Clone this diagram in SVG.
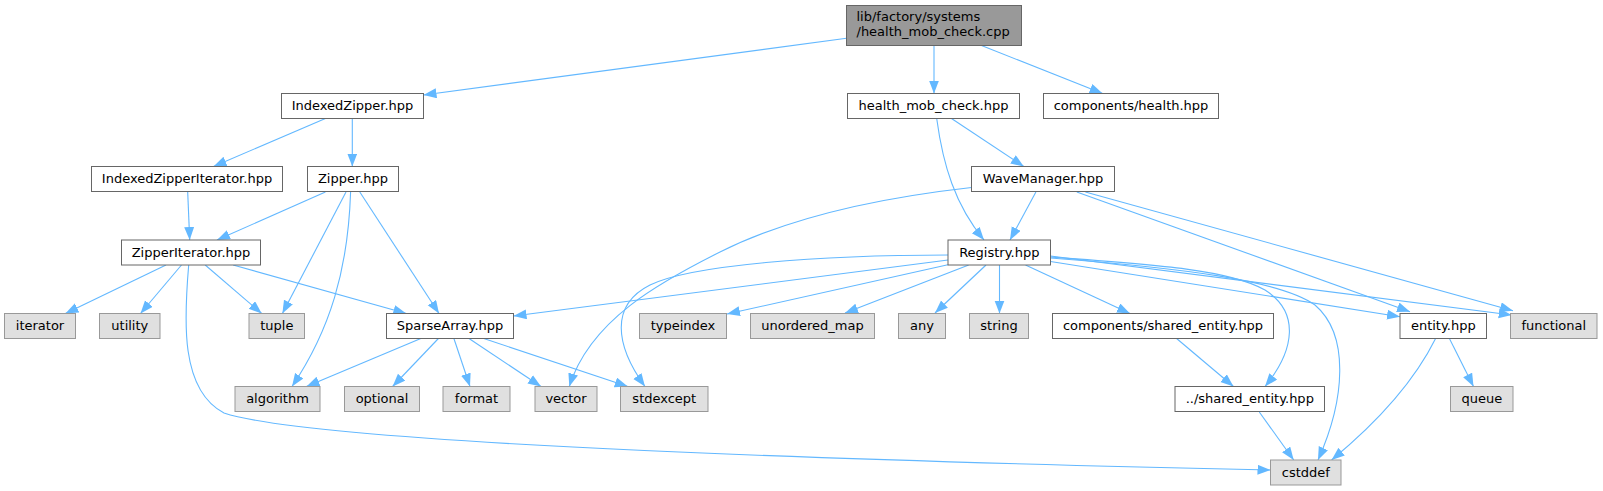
<svg xmlns="http://www.w3.org/2000/svg" width="1603" height="491" viewBox="0 0 1603 491">
<style>
.n rect{fill:#ffffff;stroke:#666666;stroke-width:1}
.g rect{fill:#e0e0e0;stroke:#999999;stroke-width:1}
.r rect{fill:#999999;stroke:#666666;stroke-width:1}
text{font-family:"DejaVu Sans","Liberation Sans",sans-serif;font-size:13px;fill:#000000;text-anchor:middle}
#edges path{fill:none;stroke:#63b8ff;stroke-width:1.1;marker-end:url(#a)}
</style>
<defs>
<marker id="a" markerUnits="userSpaceOnUse" markerWidth="14" markerHeight="11" refX="13" refY="5" orient="auto">
<path d="M0,0 L13,5 L0,10 z" fill="#63b8ff" stroke="none"/>
</marker>
</defs>
<rect width="1603" height="491" fill="#ffffff"/>
<g id="edges">
<path d="M846.5,38.3 L423.5,95"/>
<path d="M934,45.5 L934,93.5"/>
<path d="M981.5,45.5 L1102.6,93.5"/>
<path d="M325.4,118.5 L213.5,166.5"/>
<path d="M352.3,118.5 L352.3,166.5"/>
<path d="M187.7,192 L189.7,240"/>
<path d="M325.4,192 L217,240"/>
<path d="M346,192 L282.4,313.5"/>
<path d="M350.6,192 C348,270 330,330 292,386.5"/>
<path d="M359.8,192 L439,313.5"/>
<path d="M166,265 L65.4,313.5"/>
<path d="M181.5,265 L140.5,313.5"/>
<path d="M205.2,265 L261.7,313.5"/>
<path d="M233.1,265 L406.3,313.5"/>
<path d="M188.7,265 C184,320 180,390 224,413 C320,445 900,462 1270.5,470"/>
<path d="M420.8,338.5 L306.5,386.5"/>
<path d="M438.4,338.5 L392.6,386.5"/>
<path d="M453.9,338.5 L470,386.5"/>
<path d="M469,338.5 L541,386.5"/>
<path d="M483.8,338.5 L627.8,386.5"/>
<path d="M951.5,118.5 L1023.8,166.5"/>
<path d="M936.7,118.5 C943,165 955,205 984,240"/>
<path d="M1035.9,192 L1010,240"/>
<path d="M971.5,187.5 C860,200 780,222 720,252 C660,282 590,320 569.3,386.5"/>
<path d="M1076.8,192 L1410,311.7"/>
<path d="M1085.4,192 L1513,310.7"/>
<path d="M948,255 C820,255 690,265 650,285 C610,305 615,345 645,386.5"/>
<path d="M948,260 L513.5,316"/>
<path d="M949,264.5 L727,314"/>
<path d="M968.7,265 L845,313"/>
<path d="M986,265 L935,313"/>
<path d="M999.5,265 L999.5,313.5"/>
<path d="M1025.5,265 L1130,313.5"/>
<path d="M1050.5,257 C1160,265 1230,270 1265,290 C1300,312 1295,350 1265,386.5"/>
<path d="M1050.5,258 C1180,268 1280,280 1315,305 C1350,335 1345,400 1318,460"/>
<path d="M1050.5,261.5 L1400,316.7"/>
<path d="M1050.5,256 L1511.7,315"/>
<path d="M1449.4,338.5 L1473.5,386.5"/>
<path d="M1435.6,338.5 C1415,380 1380,420 1331.6,460"/>
<path d="M1176.6,338.5 L1233.5,386.5"/>
<path d="M1259.3,412 L1293.7,460"/>
</g>
<g id="node_root" class="r"><rect x="846.5" y="5.5" width="175" height="40"/><text x="856.5" y="21" style="text-anchor:start">lib/factory/systems</text><text x="856.5" y="36" style="text-anchor:start">/health_mob_check.cpp</text></g>
<g id="node_indexedzipper" class="n"><rect x="281.5" y="93.5" width="142" height="25"/><text x="352.5" y="110">IndexedZipper.hpp</text></g>
<g id="node_health_mob_check" class="n"><rect x="847.5" y="93.5" width="172" height="25"/><text x="933.5" y="110">health_mob_check.hpp</text></g>
<g id="node_components_health" class="n"><rect x="1043.5" y="93.5" width="175" height="25"/><text x="1131" y="110">components/health.hpp</text></g>
<g id="node_indexedzipperiterator" class="n"><rect x="91.5" y="166.5" width="191" height="25"/><text x="187" y="183">IndexedZipperIterator.hpp</text></g>
<g id="node_zipper" class="n"><rect x="307.5" y="166.5" width="91" height="25"/><text x="353" y="183">Zipper.hpp</text></g>
<g id="node_wavemanager" class="n"><rect x="971.5" y="166.5" width="143" height="25"/><text x="1043" y="183">WaveManager.hpp</text></g>
<g id="node_zipperiterator" class="n"><rect x="121.5" y="240" width="139" height="25"/><text x="191" y="256.5">ZipperIterator.hpp</text></g>
<g id="node_registry" class="n"><rect x="948" y="240" width="102.5" height="25"/><text x="999.3" y="256.5">Registry.hpp</text></g>
<g id="node_iterator" class="g"><rect x="4.5" y="313.5" width="71" height="25"/><text x="40" y="330">iterator</text></g>
<g id="node_utility" class="g"><rect x="99.5" y="313.5" width="60.5" height="25"/><text x="129.8" y="330">utility</text></g>
<g id="node_tuple" class="g"><rect x="249" y="313.5" width="55.5" height="25"/><text x="276.8" y="330">tuple</text></g>
<g id="node_sparsearray" class="n"><rect x="386.5" y="313.5" width="127" height="25"/><text x="450" y="330">SparseArray.hpp</text></g>
<g id="node_typeindex" class="g"><rect x="639.5" y="313.5" width="87" height="25"/><text x="683" y="330">typeindex</text></g>
<g id="node_unordered_map" class="g"><rect x="750.5" y="313.5" width="124" height="25"/><text x="812.5" y="330">unordered_map</text></g>
<g id="node_any" class="g"><rect x="898.5" y="313.5" width="47" height="25"/><text x="922" y="330">any</text></g>
<g id="node_string" class="g"><rect x="969.5" y="313.5" width="59" height="25"/><text x="999" y="330">string</text></g>
<g id="node_components_shared_entity" class="n"><rect x="1052.5" y="313.5" width="221" height="25"/><text x="1163" y="330">components/shared_entity.hpp</text></g>
<g id="node_entity" class="n"><rect x="1400" y="313.5" width="86.5" height="25"/><text x="1443.3" y="330">entity.hpp</text></g>
<g id="node_functional" class="g"><rect x="1510.5" y="313.5" width="86.5" height="25"/><text x="1553.8" y="330">functional</text></g>
<g id="node_algorithm" class="g"><rect x="235" y="386.5" width="85" height="25"/><text x="277.5" y="403">algorithm</text></g>
<g id="node_optional" class="g"><rect x="344.5" y="386.5" width="75" height="25"/><text x="382" y="403">optional</text></g>
<g id="node_format" class="g"><rect x="443" y="386.5" width="67" height="25"/><text x="476.5" y="403">format</text></g>
<g id="node_vector" class="g"><rect x="535" y="386.5" width="62" height="25"/><text x="566" y="403">vector</text></g>
<g id="node_stdexcept" class="g"><rect x="620.5" y="386.5" width="87.5" height="25"/><text x="664.3" y="403">stdexcept</text></g>
<g id="node_shared_entity" class="n"><rect x="1175" y="386.5" width="149.5" height="25"/><text x="1249.8" y="403">../shared_entity.hpp</text></g>
<g id="node_queue" class="g"><rect x="1450.5" y="386.5" width="62.5" height="25"/><text x="1481.8" y="403">queue</text></g>
<g id="node_cstddef" class="g"><rect x="1270.5" y="460" width="70.5" height="25"/><text x="1305.8" y="476.5">cstddef</text></g>
</svg>
